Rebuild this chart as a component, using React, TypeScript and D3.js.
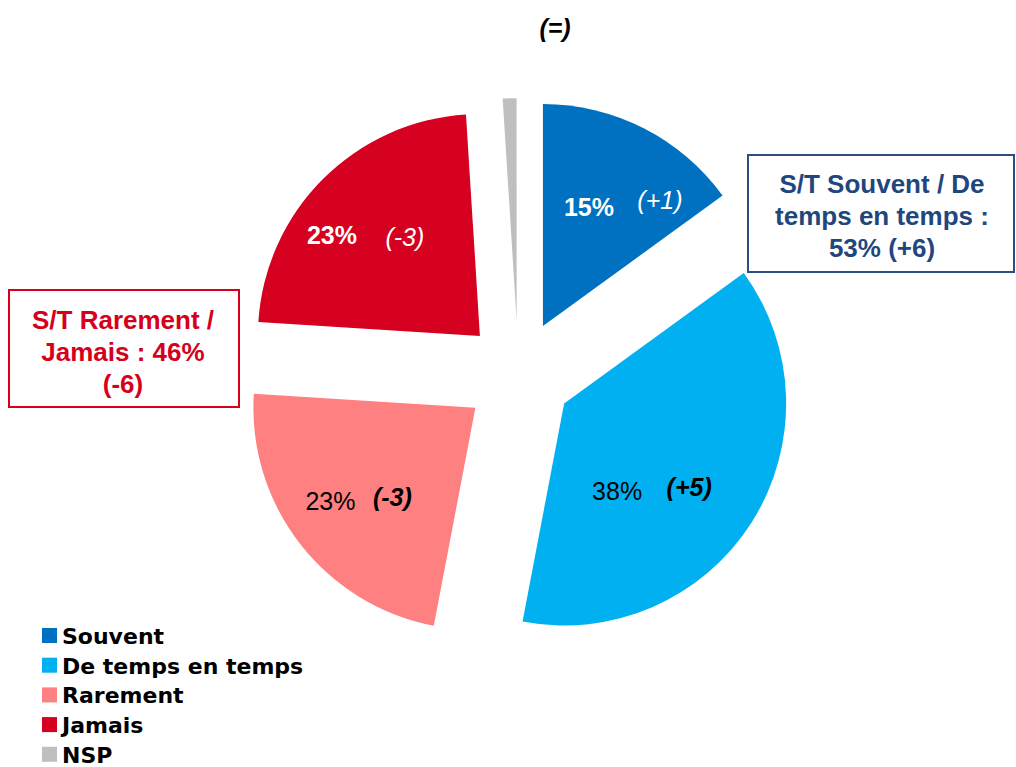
import React from "react";
import * as d3 from "d3";

const categories = ["Souvent", "De temps en temps", "Rarement", "Jamais", "NSP"];
const values = [15, 38, 23, 23, 1];
const changes = ["(+1)", "(+5)", "(-3)", "(-3)", ""];
const colors = ["#0070C0", "#00B0F0", "#FF8080", "#D60020", "#BFBFBF"];
const title = "(=)";
const boxRightLines = ["S/T Souvent / De", "temps en temps :", "53% (+6)"];
const boxLeftLines = ["S/T Rarement /", "Jamais : 46%", "(-6)"];

// label layout (relative to each exploded slice apex)
const labelLayout = [
  { pct: [46, -119], chg: [117, -126], pctColor: "#fff", pctWeight: 700, chgColor: "#fff", chgWeight: 400 },
  { pct: [53, 88], chg: [125, 84], pctColor: "#000", pctWeight: 400, chgColor: "#000", chgWeight: 700 },
  { pct: [-145, 93], chg: [-83, 89], pctColor: "#000", pctWeight: 400, chgColor: "#000", chgWeight: 700 },
  { pct: [-148, -101], chg: [-75, -99], pctColor: "#fff", pctWeight: 700, chgColor: "#fff", chgWeight: 400 },
  null,
];

const W = 1016;
const H = 767;
const CX = 518.3;
const CY = 374.4;
const R = 222;
const EXPLODE = 54.3;

export default function App() {
  const pie = d3.pie<number>().sort(null).value((d) => d);
  const arcs = pie(values);
  const arcGen = d3.arc<d3.PieArcDatum<number>>().innerRadius(0).outerRadius(R);
  const font = "'Liberation Sans', Arial, sans-serif";

  return (
    <svg width={W} height={H} style={{ position: "absolute", left: 0, top: 0 }} fontFamily={font}>
      <rect width={W} height={H} fill="#fff" />
      <text x={555} y={28} textAnchor="middle" dominantBaseline="central" fontSize={25} fontWeight={700} fontStyle="italic">
        {title}
      </text>
      {arcs.map((a, i) => {
        const mid = (a.startAngle + a.endAngle) / 2;
        const ox = CX + EXPLODE * Math.sin(mid);
        const oy = CY - EXPLODE * Math.cos(mid);
        const L = labelLayout[i];
        return (
          <g key={categories[i]} transform={`translate(${ox},${oy})`}>
            <path d={arcGen(a) || ""} fill={colors[i]} />
            {L && (
              <>
                <text x={L.pct[0]} y={L.pct[1]} textAnchor="middle" dominantBaseline="central" fontSize={25} fontWeight={L.pctWeight} fill={L.pctColor}>
                  {values[i]}%
                </text>
                <text x={L.chg[0]} y={L.chg[1]} textAnchor="middle" dominantBaseline="central" fontSize={25} fontWeight={L.chgWeight} fontStyle="italic" fill={L.chgColor}>
                  {changes[i]}
                </text>
              </>
            )}
          </g>
        );
      })}
      {/* right box */}
      <rect x={748} y={155} width={266} height={117} fill="#fff" stroke="#2B4F83" strokeWidth={2} />
      {boxRightLines.map((t, i) => (
        <text key={t} x={882} y={184 + i * 32} textAnchor="middle" dominantBaseline="central" fontSize={26} fontWeight={700} fill="#1F477D">
          {t}
        </text>
      ))}
      {/* left box */}
      <rect x={9} y={290} width={230} height={117} fill="#fff" stroke="#D6001C" strokeWidth={2} />
      {boxLeftLines.map((t, i) => (
        <text key={t} x={123} y={320 + i * 32} textAnchor="middle" dominantBaseline="central" fontSize={26} fontWeight={700} fill="#D6001C">
          {t}
        </text>
      ))}
      {/* legend */}
      {categories.map((c, i) => (
        <g key={c} transform={`translate(42,${628 + i * 29.7})`}>
          <rect x={0} y={0} width={15} height={15} fill={colors[i]} />
          <text x={20} y={16} fontSize={22} fontWeight={700} fontFamily="'DejaVu Sans', sans-serif" fill="#000">
            {c}
          </text>
        </g>
      ))}
    </svg>
  );
}
